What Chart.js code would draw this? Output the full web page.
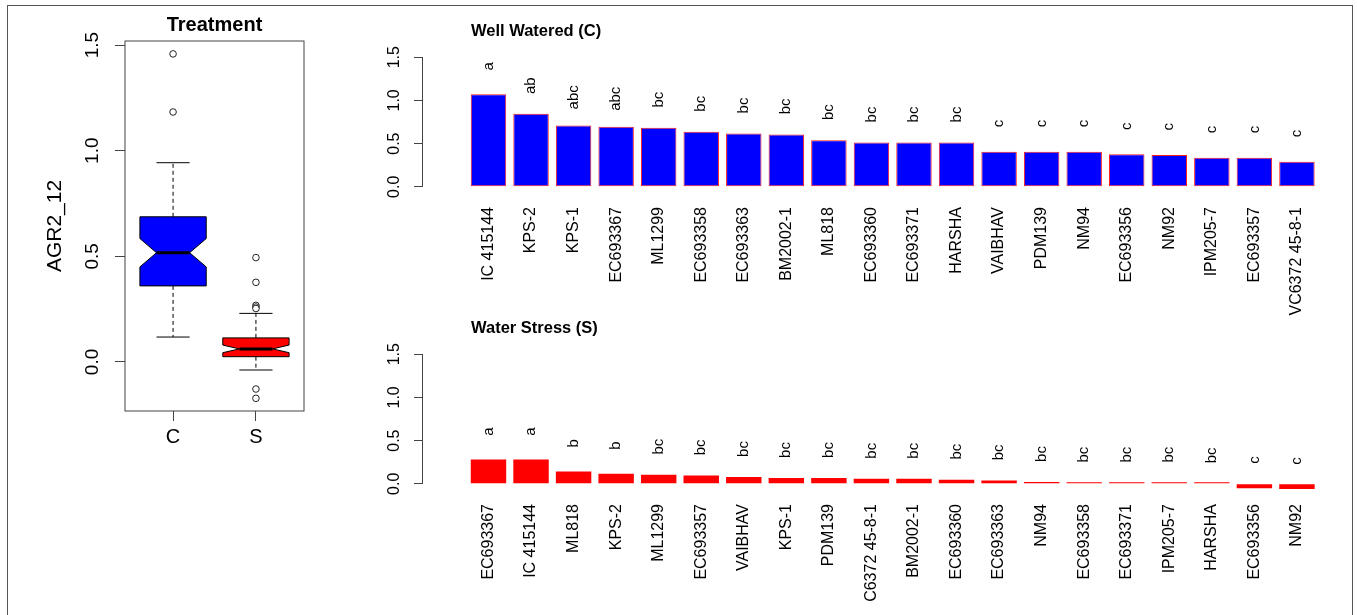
<!DOCTYPE html>
<html>
<head>
<meta charset="utf-8">
<script src="https://cdn.jsdelivr.net/npm/chart.js@4/dist/chart.umd.min.js"></script>
<style>
  body { margin: 0; background: #fff; width: 1357px; height: 615px; overflow: hidden; position: relative; }
  .frame { position: absolute; left: 7px; top: 5px; width: 1344px; height: 640px; border: 1.5px solid #555; }
  canvas { position: absolute; }
  #box { left: 10px; top: 10px; }
  #wellWatered { left: 360px; top: 0px; }
  #waterStress { left: 360px; top: 297px; }
</style>
</head>
<body>
<div class="frame"></div>
<canvas id="box" width="320" height="450"></canvas>
<canvas id="wellWatered" width="985" height="330"></canvas>
<canvas id="waterStress" width="985" height="330"></canvas>
<script>
// Boxplot: Treatment
const boxGroups = ["C", "S"];
const boxLow = [0.118, -0.038];
const boxQ1 = [0.36, 0.025];
const boxMedian = [0.517, 0.062];
const boxQ3 = [0.687, 0.114];
const boxHigh = [0.943, 0.23];
const notchLow = [0.45, 0.044];
const notchHigh = [0.584, 0.08];
const outliersC = [1.458, 1.183];
const outliersS = [0.494, 0.377, 0.268, 0.26, 0.253, -0.128, -0.172];
const boxColors = ["#0000ff", "#ff0000"];
const yTicks = [0, 0.5, 1.0, 1.5];

// Well Watered (C)
const wellNames = ["IC 415144", "KPS-2", "KPS-1", "EC693367", "ML1299", "EC693358", "EC693363", "BM2002-1", "ML818", "EC693360",
  "EC693371", "HARSHA", "VAIBHAV", "PDM139", "NM94", "EC693356", "NM92", "IPM205-7", "EC693357", "VC6372 45-8-1"];
const wellValues = [1.07, 0.845, 0.71, 0.694, 0.683, 0.636, 0.616, 0.605, 0.54, 0.512,
  0.512, 0.512, 0.407, 0.407, 0.407, 0.377, 0.369, 0.337, 0.337, 0.291];
const wellLetters = ["a", "ab", "abc", "abc", "bc", "bc", "bc", "bc", "bc", "bc",
  "bc", "bc", "c", "c", "c", "c", "c", "c", "c", "c"];

// Water Stress (S)
const stressNames = ["EC693367", "IC 415144", "ML818", "KPS-2", "ML1299", "EC693357", "VAIBHAV", "KPS-1", "PDM139", "C6372 45-8-1",
  "BM2002-1", "EC693360", "EC693363", "NM94", "EC693358", "EC693371", "IPM205-7", "HARSHA", "EC693356", "NM92"];
const stressValues = [0.28, 0.28, 0.143, 0.116, 0.105, 0.097, 0.078, 0.066, 0.066, 0.058,
  0.058, 0.047, 0.039, 0.02, 0.012, 0.012, 0.012, 0.005, -0.05, -0.062];
const stressLetters = ["a", "a", "b", "b", "bc", "bc", "bc", "bc", "bc", "bc",
  "bc", "bc", "bc", "bc", "bc", "bc", "bc", "bc", "c", "c"];

Chart.defaults.font.family = "'Liberation Sans', Arial, sans-serif";
Chart.defaults.color = "#000";

function setTicks(values) {
  return function(scale) {
    scale.ticks = values.map(function(v) { return { value: v }; });
  };
}

// title drawn at a fixed spot inside the canvas
function titlePlugin(text, size, getX, y, align) {
  return {
    id: "panelTitle",
    afterDraw: function(chart) {
      const ctx = chart.ctx;
      ctx.save();
      ctx.font = "bold " + size + "px 'Liberation Sans', Arial, sans-serif";
      ctx.fillStyle = "#000";
      ctx.textAlign = align;
      ctx.textBaseline = "middle";
      ctx.fillText(text, getX(chart), y);
      ctx.restore();
    }
  };
}

// ---------- boxplot ----------
const boxPlugin = {
  id: "notchedBox",
  beforeDatasetsDraw: function(chart) {
    const ctx = chart.ctx;
    const x = chart.scales.x;
    const y = chart.scales.y;
    const area = chart.chartArea;
    ctx.save();
    boxGroups.forEach(function(g, i) {
      const cx = x.getPixelForValue(i + 1);
      const hw = x.getPixelForValue(i + 1 + 0.4) - cx;
      const yQ1 = y.getPixelForValue(boxQ1[i]);
      const yQ3 = y.getPixelForValue(boxQ3[i]);
      const yMed = y.getPixelForValue(boxMedian[i]);
      const yNl = y.getPixelForValue(notchLow[i]);
      const yNh = y.getPixelForValue(notchHigh[i]);
      const yLo = y.getPixelForValue(boxLow[i]);
      const yHi = y.getPixelForValue(boxHigh[i]);

      // whiskers
      ctx.strokeStyle = "#000";
      ctx.lineWidth = 1;
      ctx.setLineDash([4, 3]);
      ctx.beginPath();
      ctx.moveTo(cx, yQ3); ctx.lineTo(cx, yHi);
      ctx.moveTo(cx, yQ1); ctx.lineTo(cx, yLo);
      ctx.stroke();
      ctx.setLineDash([]);
      ctx.beginPath();
      ctx.moveTo(cx - hw / 2, yHi); ctx.lineTo(cx + hw / 2, yHi);
      ctx.moveTo(cx - hw / 2, yLo); ctx.lineTo(cx + hw / 2, yLo);
      ctx.stroke();

      // notched box
      ctx.beginPath();
      ctx.moveTo(cx - hw, yQ1);
      ctx.lineTo(cx - hw, yNl);
      ctx.lineTo(cx - hw / 2, yMed);
      ctx.lineTo(cx - hw, yNh);
      ctx.lineTo(cx - hw, yQ3);
      ctx.lineTo(cx + hw, yQ3);
      ctx.lineTo(cx + hw, yNh);
      ctx.lineTo(cx + hw / 2, yMed);
      ctx.lineTo(cx + hw, yNl);
      ctx.lineTo(cx + hw, yQ1);
      ctx.closePath();
      ctx.fillStyle = boxColors[i];
      ctx.fill();
      ctx.stroke();

      // median
      ctx.lineWidth = 3;
      ctx.beginPath();
      ctx.moveTo(cx - hw / 2, yMed); ctx.lineTo(cx + hw / 2, yMed);
      ctx.stroke();
    });
    // frame
    ctx.lineWidth = 1;
    ctx.strokeStyle = "#444";
    ctx.strokeRect(area.left, area.top, area.right - area.left, area.bottom - area.top);
    ctx.restore();
  }
};

new Chart(document.getElementById("box").getContext("2d"), {
  type: "scatter",
  data: {
    datasets: [
      { data: outliersC.map(function(v) { return { x: 1, y: v }; }) },
      { data: outliersS.map(function(v) { return { x: 2, y: v }; }) }
    ]
  },
  options: {
    responsive: false,
    animation: false,
    layout: { padding: { top: 31, right: 26 } },
    elements: {
      point: { radius: 3.3, borderWidth: 1, borderColor: "#222", backgroundColor: "#fff", pointStyle: "circle" }
    },
    plugins: { legend: { display: false }, tooltip: { enabled: false } },
    scales: {
      x: {
        type: "linear", min: 0.42, max: 2.58, offset: false,
        afterBuildTicks: setTicks([1, 2]),
        afterFit: function(s) { s.height = 49; },
        border: { display: false },
        grid: { drawOnChartArea: false, tickLength: 10, color: "#444" },
        ticks: { padding: 4, font: { size: 20 }, callback: function(v) { return boxGroups[v - 1]; } }
      },
      y: {
        min: -0.232, max: 1.519,
        afterBuildTicks: setTicks(yTicks),
        afterFit: function(s) { s.width = 115; },
        border: { display: false },
        grid: { drawOnChartArea: false, tickLength: 10, color: "#444" },
        ticks: { minRotation: 90, maxRotation: 90, crossAlign: "center", padding: 9, font: { size: 19 },
          callback: function(v) { return v.toFixed(1); } },
        title: { display: true, text: "AGR2_12", font: { size: 21 }, padding: { top: 33, bottom: 0 } }
      }
    }
  },
  plugins: [boxPlugin, titlePlugin("Treatment", 20, function(c) { return (c.chartArea.left + c.chartArea.right) / 2; }, 15, "center")]
});

// ---------- bar charts ----------
function barChart(id, title, names, values, letters, fill, edge) {
  const letterPlugin = {
    id: "letters",
    afterDatasetsDraw: function(chart) {
      const ctx = chart.ctx;
      const x = chart.scales.x;
      const y = chart.scales.y;
      ctx.save();
      ctx.font = "15px 'Liberation Sans', Arial, sans-serif";
      ctx.fillStyle = "#000";
      ctx.textAlign = "center";
      ctx.textBaseline = "middle";
      letters.forEach(function(l, i) {
        ctx.save();
        ctx.translate(x.getPixelForValue(i), y.getPixelForValue(values[i] + 0.325));
        ctx.rotate(-Math.PI / 2);
        ctx.fillText(l, 0, 0);
        ctx.restore();
      });
      // y axis line from 0 to 1.5
      ctx.strokeStyle = "#444";
      ctx.lineWidth = 1;
      ctx.beginPath();
      ctx.moveTo(chart.chartArea.left - 0.5, y.getPixelForValue(0));
      ctx.lineTo(chart.chartArea.left - 0.5, y.getPixelForValue(1.5));
      ctx.stroke();
      ctx.restore();
    }
  };

  new Chart(document.getElementById(id).getContext("2d"), {
    type: "bar",
    data: {
      datasets: [{
        data: values.map(function(v, i) { return { x: i, y: v }; }),
        backgroundColor: fill,
        borderColor: "#ff1a1a",
        borderWidth: edge,
        borderSkipped: false,
        minBarLength: 1.5,
        categoryPercentage: 1,
        barPercentage: 0.833
      }]
    },
    options: {
      responsive: false,
      animation: false,
      layout: { padding: { top: 52, right: 15 } },
      plugins: { legend: { display: false }, tooltip: { enabled: false } },
      scales: {
        x: {
          type: "linear", min: -1.539, max: 19.777, offset: false,
          afterBuildTicks: setTicks(names.map(function(n, i) { return i; })),
          afterFit: function(s) { s.height = 138; },
          border: { display: false },
          grid: { display: false, drawTicks: false },
          ticks: { autoSkip: false, minRotation: 90, maxRotation: 90, padding: 15, font: { size: 16 },
            callback: function(v) { return names[v]; } }
        },
        y: {
          min: -0.06, max: 1.56,
          afterBuildTicks: setTicks(yTicks),
          afterFit: function(s) { s.width = 63; },
          border: { display: false },
          grid: { drawOnChartArea: false, tickLength: 9, color: "#444" },
          ticks: { minRotation: 90, maxRotation: 90, crossAlign: "center", padding: 8, font: { size: 16 },
            callback: function(v) { return v.toFixed(1); } }
        }
      }
    },
    plugins: [letterPlugin, titlePlugin(title, 16.5, function(c) { return c.chartArea.left + 48; }, 31, "left")]
  });
}

barChart("wellWatered", "Well Watered (C)", wellNames, wellValues, wellLetters, "#0000ff", 1);
barChart("waterStress", "Water Stress (S)", stressNames, stressValues, stressLetters, "#ff0000", 0);
</script>
</body>
</html>
